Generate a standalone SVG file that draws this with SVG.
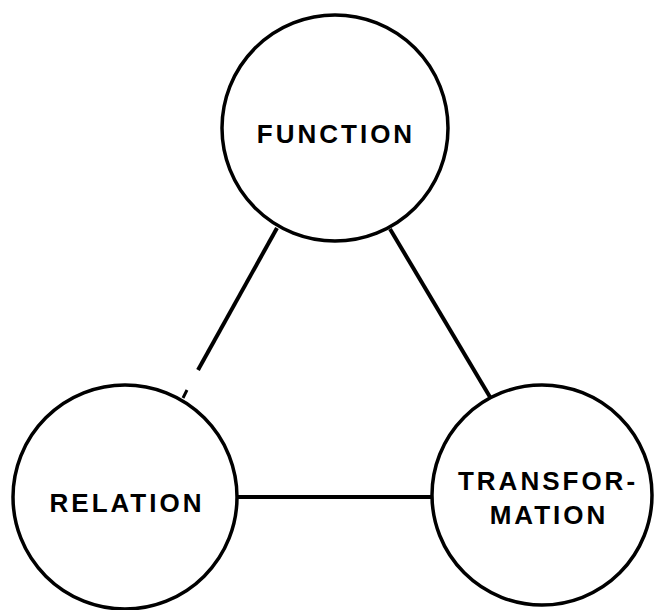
<svg xmlns="http://www.w3.org/2000/svg" width="654" height="610" viewBox="0 0 654 610">
<style>
.node{fill:#fff;stroke:#000;stroke-width:3.5}
.lbl{font-family:"Liberation Sans",Arial,sans-serif;font-weight:bold;font-size:26px;letter-spacing:3px;text-anchor:middle;fill:#000}
.edge{stroke:#000;stroke-width:4;stroke-linecap:butt;fill:none}
</style>
<rect width="654" height="610" fill="#fff"/>
<g id="connectors">
<line class="edge" x1="277" y1="228" x2="198" y2="370"/>
<line class="edge" x1="183" y1="398" x2="187" y2="390" style="stroke-width:3"/>
<line class="edge" x1="390" y1="229" x2="490" y2="397"/>
<line class="edge" x1="238" y1="497" x2="433" y2="497"/>
</g>
<g id="function">
<circle class="node" cx="335" cy="128" r="113"/>
<text class="lbl" x="336" y="143">FUNCTION</text>
</g>
<g id="relation">
<circle class="node" cx="125" cy="497" r="112"/>
<text class="lbl" x="127" y="512">RELATION</text>
</g>
<g id="transformation">
<circle class="node" cx="542" cy="495" r="110"/>
<text class="lbl" x="548" y="490">TRANSFOR-</text>
<text class="lbl" x="549" y="524">MATION</text>
</g>
</svg>
